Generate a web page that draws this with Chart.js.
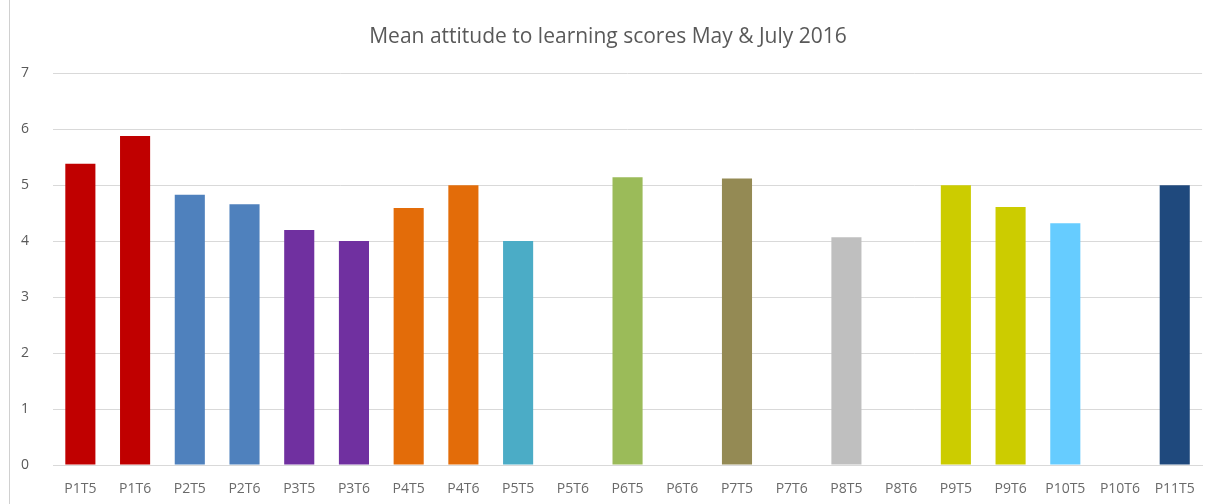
<!DOCTYPE html>
<html>
<head>
<meta charset="utf-8">
<script src="https://cdn.jsdelivr.net/npm/chart.js@4/dist/chart.umd.min.js"></script>
<style>
  html, body { margin: 0; padding: 0; background: #fff; }
  #wrap { position: relative; width: 1211px; height: 504px; }
  #edge { position: absolute; left: 9px; top: 0; width: 1px; height: 504px; background: #d0d0d0; }
</style>
</head>
<body>
<div id="wrap">
  <div id="edge"></div>
  <canvas id="grafico" width="1211" height="504"></canvas>
</div>
<script>
// categorias e valores
const categorias = ['P1T5', 'P1T6', 'P2T5', 'P2T6', 'P3T5', 'P3T6', 'P4T5', 'P4T6', 'P5T5', 'P5T6',
    'P6T5', 'P6T6', 'P7T5', 'P7T6', 'P8T5', 'P8T6', 'P9T5', 'P9T6', 'P10T5', 'P10T6', 'P11T5'];
const medias = [5.38, 5.88, 4.83, 4.66, 4.2, 4.0, 4.59, 5.0, 4.0, null,
    5.14, null, 5.12, null, 4.07, null, 5.0, 4.61, 4.32, null, 5.0];
const cores = ['#C00000', '#C00000', '#4F81BD', '#4F81BD', '#7030A0', '#7030A0', '#E36C09', '#E36C09',
    '#4BACC6', '#4BACC6', '#9BBB59', '#9BBB59', '#948A54', '#948A54', '#BFBFBF', '#BFBFBF',
    '#CCCC00', '#CCCC00', '#66CCFF', '#66CCFF', '#1F497D'];
const ticksY = [0, 1, 2, 3, 4, 5, 6, 7];

const cinza = '#595959';
const fonte = "'Open Sans', sans-serif";

new Chart(document.getElementById('grafico'), {
    type: 'bar',
    data: {
        labels: categorias,
        datasets: [{
            data: medias,
            backgroundColor: cores,
            categoryPercentage: 1,
            barPercentage: 0.55
        }]
    },
    options: {
        responsive: false,
        animation: false,
        layout: { padding: { left: 13, right: 8, bottom: 0 } },
        plugins: {
            legend: { display: false },
            tooltip: { enabled: false },
            title: {
                display: true,
                text: 'Mean attitude to learning scores May & July 2016',
                color: cinza,
                font: { family: fonte, size: 21, weight: 'normal' },
                padding: { top: 24, bottom: 24 }
            }
        },
        scales: {
            x: {
                afterFit: (s) => { s.height = 39; },
                grid: { display: false, drawTicks: false },
                border: { display: true, color: '#d9d9d9' },
                ticks: {
                    color: '#6a6a6a',
                    font: { family: fonte, size: 14 },
                    autoSkip: false,
                    maxRotation: 0,
                    padding: 16
                }
            },
            y: {
                min: 0,
                max: 7,
                afterBuildTicks: (s) => { s.ticks = ticksY.map(v => ({ value: v })); },
                afterFit: (s) => { s.width = 40; },
                grid: { color: '#d9d9d9', drawTicks: false },
                border: { display: false },
                ticks: {
                    color: cinza,
                    font: { family: fonte, size: 14 },
                    padding: 24
                }
            }
        }
    }
});
</script>
</body>
</html>
